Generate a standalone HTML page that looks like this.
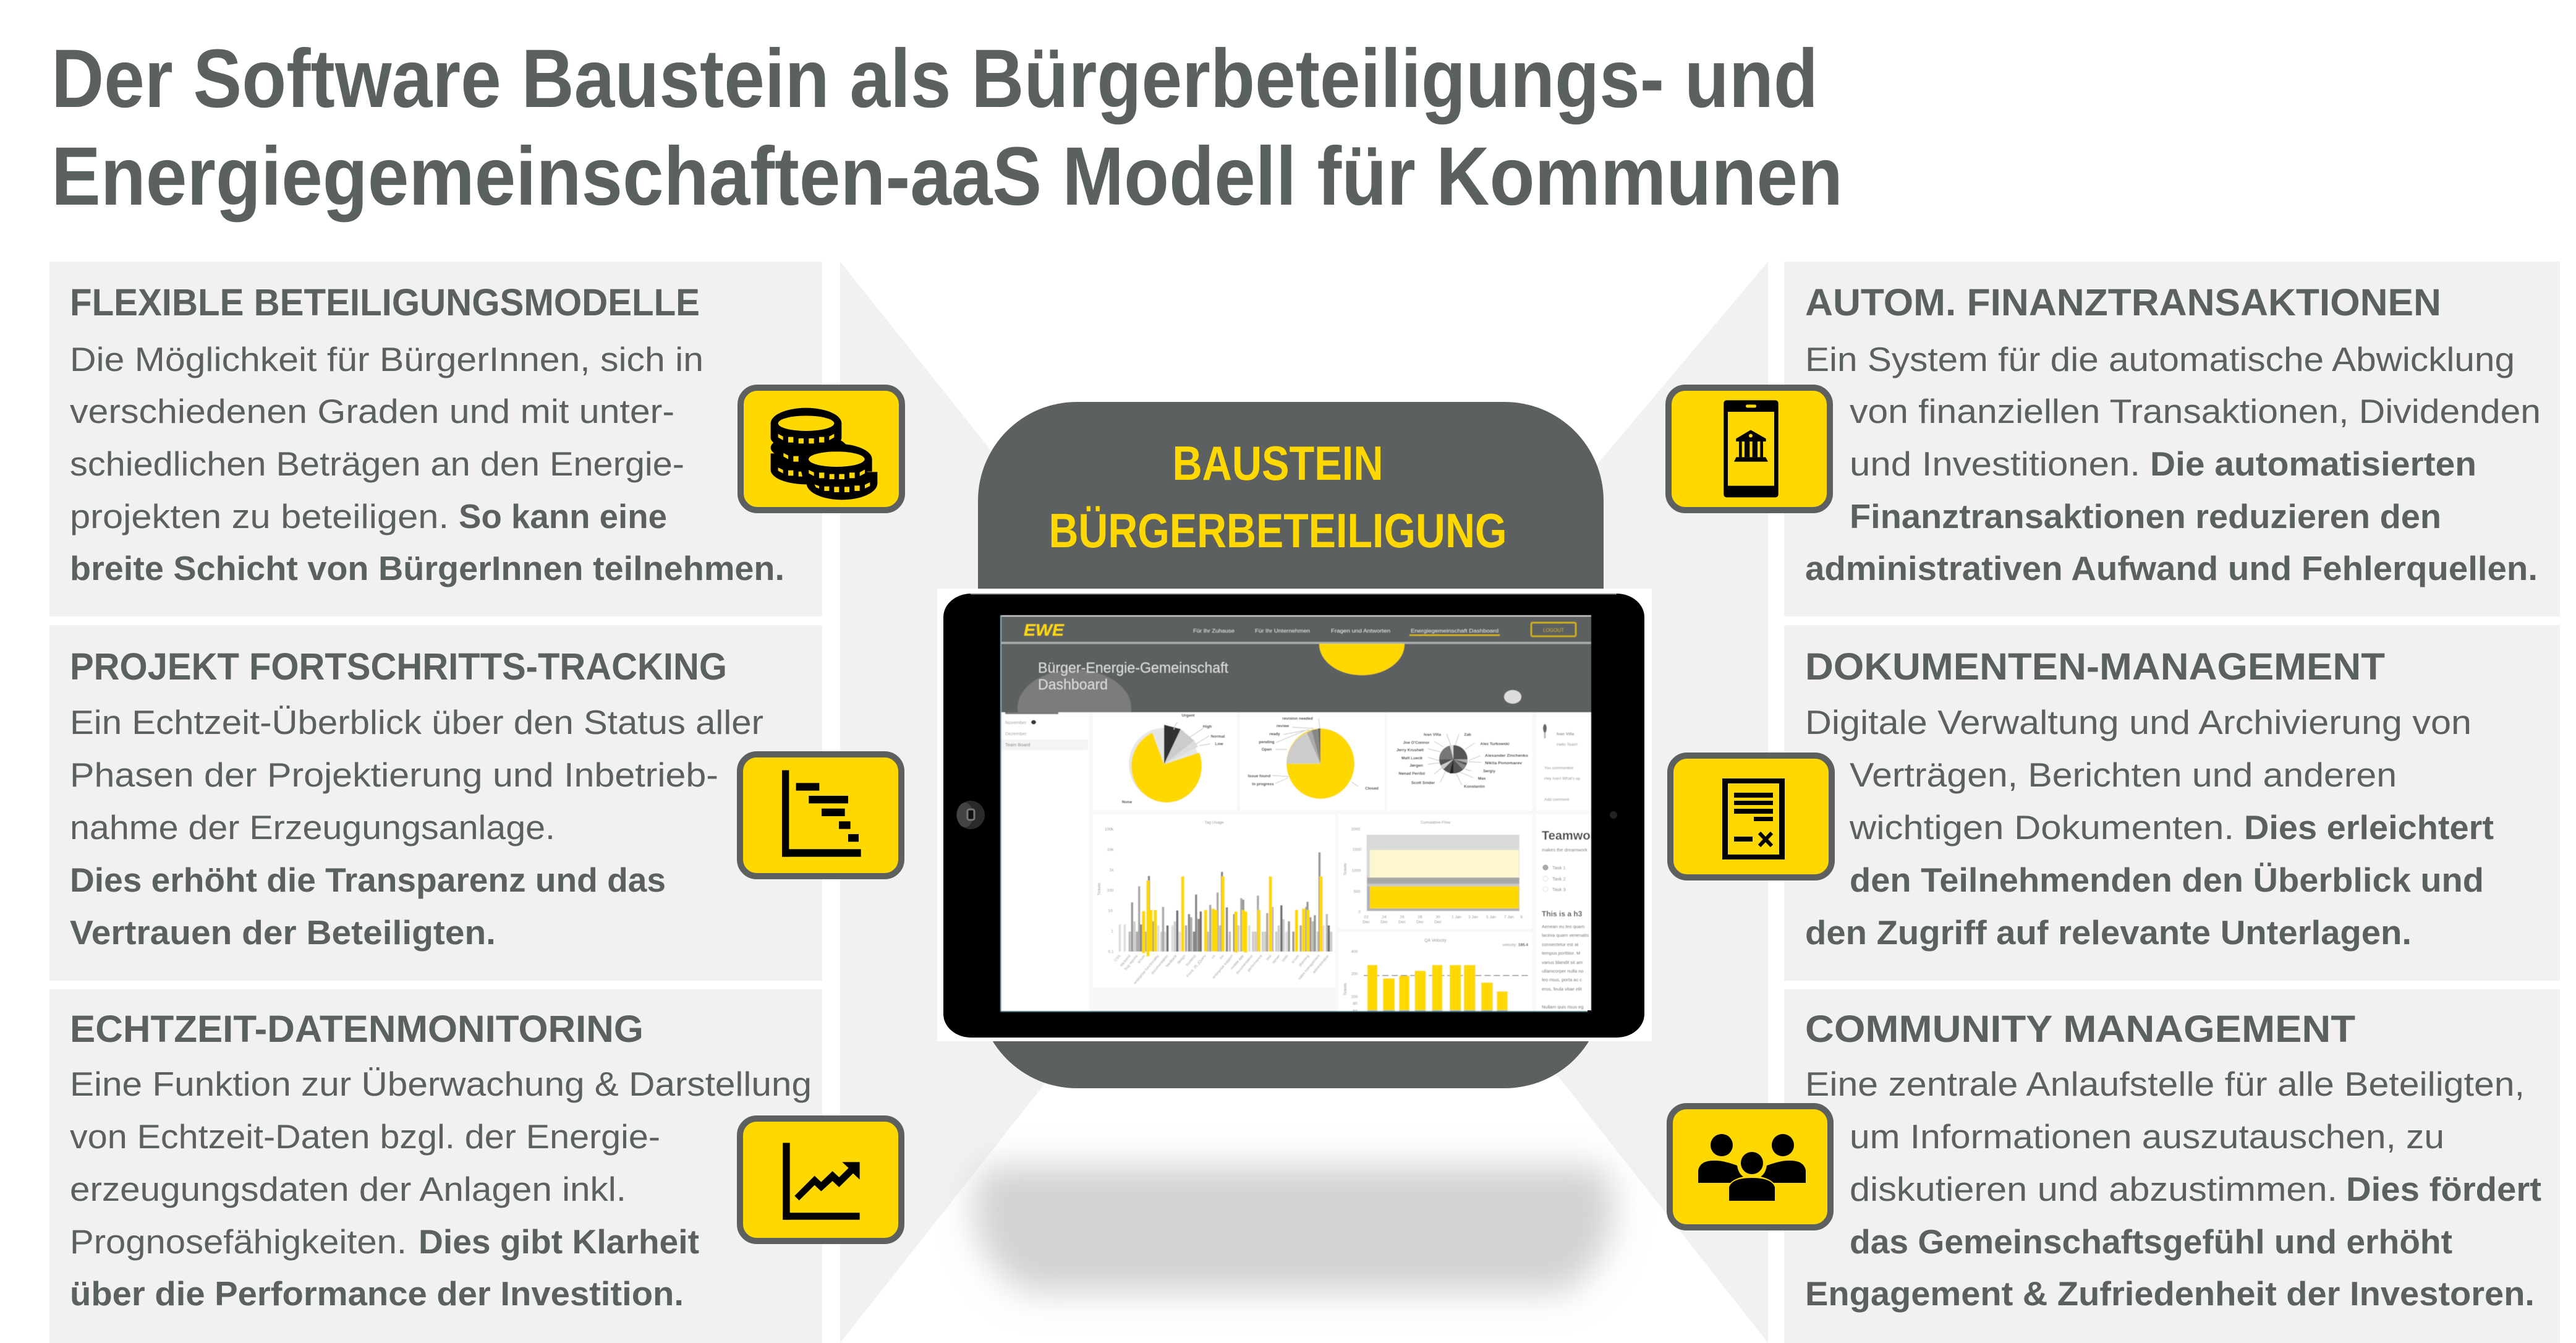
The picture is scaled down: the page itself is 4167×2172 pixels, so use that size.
<!DOCTYPE html>
<html lang="de">
<head>
<meta charset="utf-8">
<title>Der Software Baustein</title>
<style>
html,body{margin:0;padding:0;background:#fff;width:4167px;height:2172px;overflow:hidden}
svg{display:block;font-family:"Liberation Sans",sans-serif}
.h{font-size:61px;font-weight:700;fill:#5b6060}
.b{font-size:54.5px;fill:#5b6060}
.s{font-size:54.5px;font-weight:700;fill:#5b6060}
.t{font-size:134px;font-weight:700;fill:#5b6060}
.y{font-size:78px;font-weight:700;fill:#ffd800}
.i{fill:#ffd800;stroke:#5c6060;stroke-width:10}
.l{font-size:6.5px;font-weight:700;fill:#111;text-anchor:middle}
.g{font-size:6.5px;fill:#888}
.m{fill:#888;font-size:6.5px;text-anchor:middle}
</style>
</head>
<body>
<svg width="4167" height="2172" viewBox="0 0 4167 2172" xmlns="http://www.w3.org/2000/svg">
<defs>
<filter id="sh" x="-20%" y="-50%" width="140%" height="200%"><feGaussianBlur stdDeviation="28"/></filter>
<filter id="bl" x="-2%" y="-2%" width="104%" height="104%"><feGaussianBlur stdDeviation="0.65"/></filter>
<clipPath id="scr"><rect x="1620" y="995" width="954" height="641"/></clipPath>
<clipPath id="hero"><rect x="1620" y="1041" width="954" height="111"/></clipPath>
</defs>
<rect width="4167" height="2172" fill="#fff"/>

<!-- title -->
<text class="t" x="83" y="173" textLength="2858" lengthAdjust="spacingAndGlyphs">Der Software Baustein als Bürgerbeteiligungs- und</text>
<text class="t" x="83" y="331" textLength="2898" lengthAdjust="spacingAndGlyphs">Energiegemeinschaften-aaS Modell für Kommunen</text>

<!-- panels -->
<g fill="#f1f1f1">
<rect x="80" y="423" width="1250" height="574"/>
<rect x="80" y="1011" width="1250" height="575"/>
<rect x="80" y="1600" width="1250" height="572"/>
<rect x="2886" y="423" width="1255" height="574"/>
<rect x="2886" y="1011" width="1255" height="575"/>
<rect x="2886" y="1600" width="1255" height="572"/>
<polygon points="1359,423 1700,850 2500,850 2860,423 2860,2172 2520,1740 1700,1740 1359,2172"/>
</g>
<polygon points="1690,1753 2514,1735 2860,2172 1359,2172" fill="#fff"/>

<!-- shadow -->
<path d="M1610 1885H2575Q2610 1885 2610 1950Q2610 2040 2530 2090H1660Q1575 2040 1575 1950Q1575 1885 1610 1885Z" fill="#d2d2d2" filter="url(#sh)"/>

<!-- head -->
<rect x="1582" y="650" width="1012" height="1110" rx="160" ry="160" fill="#5c6060"/>
<text class="y" x="2067" y="776" text-anchor="middle" textLength="341" lengthAdjust="spacingAndGlyphs">BAUSTEIN</text>
<text class="y" x="2067" y="885" text-anchor="middle" textLength="741" lengthAdjust="spacingAndGlyphs">BÜRGERBETEILIGUNG</text>

<!-- tablet -->
<rect x="1516" y="952" width="1156" height="732" fill="#fff"/>
<rect x="1526" y="960" width="1134" height="718" rx="45" ry="38" fill="#000"/>
<rect x="1570" y="960" width="1045" height="2" fill="#666"/>
<ellipse cx="1570" cy="1318" rx="23" ry="23" fill="#2a2a2a"/>
<ellipse cx="1561" cy="1318" rx="13" ry="20" fill="#444"/>
<rect x="1565" y="1309" width="11" height="17" rx="3" fill="#111" stroke="#777" stroke-width="3"/>
<circle cx="2610" cy="1318" r="6" fill="#222"/>

<!-- screen -->
<g filter="url(#bl)">
<g clip-path="url(#scr)">
<rect x="1618" y="995" width="956" height="643" fill="#f8f8f8"/>
<rect x="1620" y="1152" width="142" height="484" fill="#fff"/>
<rect x="1620" y="1196" width="140" height="17" fill="#f4f4f4"/>
<g fill="#fff">
<rect x="1768" y="1152" width="233" height="159"/>
<rect x="2006" y="1152" width="234" height="159"/>
<rect x="2244" y="1152" width="235" height="159"/>
<rect x="2485" y="1152" width="89" height="159"/>
<rect x="1768" y="1317" width="392" height="280"/>
<rect x="2165" y="1317" width="314" height="185"/>
<rect x="2165" y="1507" width="314" height="129"/>
<rect x="2485" y="1317" width="89" height="319"/>
</g>
<!-- nav and hero -->
<rect x="1620" y="995" width="954" height="157" fill="#5c6060"/>
<rect x="1620" y="995" width="954" height="2" fill="#ddd"/>
<rect x="1620" y="1038" width="954" height="3.5" fill="#a9abab"/>
<g clip-path="url(#hero)">
<ellipse cx="2203" cy="1042" rx="69" ry="50" fill="#ffd800"/>
<ellipse cx="1738" cy="1145" rx="92" ry="62" fill="#7c7c7c"/>
</g>
<ellipse cx="2447" cy="1127" rx="14" ry="11" fill="#ddd"/>
<text x="1656" y="1028" font-size="27" font-weight="700" font-style="italic" fill="#ffd800" textLength="65" lengthAdjust="spacingAndGlyphs">EWE</text>
<g font-size="8" fill="#ddd">
<text x="1930" y="1023" textLength="67" lengthAdjust="spacingAndGlyphs">Für Ihr Zuhause</text>
<text x="2030" y="1023" textLength="89" lengthAdjust="spacingAndGlyphs">Für Ihr Unternehmen</text>
<text x="2153" y="1023" textLength="96" lengthAdjust="spacingAndGlyphs">Fragen und Antworten</text>
<text x="2282" y="1023" textLength="142" lengthAdjust="spacingAndGlyphs">Energiegemeinschaft Dashboard</text>
</g>
<rect x="2280" y="1026" width="146" height="2.5" fill="#d6b500"/>
<rect x="2477" y="1007" width="72" height="22" rx="2" fill="none" stroke="#d6b500" stroke-width="2.5"/>
<text x="2513" y="1022" font-size="8" fill="#c8ac10" text-anchor="middle">LOGOUT</text>
<text x="1679" y="1088" font-size="24" fill="#ddd" textLength="308" lengthAdjust="spacingAndGlyphs">Bürger-Energie-Gemeinschaft</text>
<text x="1679" y="1115" font-size="24" fill="#ddd" textLength="113" lengthAdjust="spacingAndGlyphs">Dashboard</text>
<!-- sidebar -->
<g font-size="7.5" fill="#999">
<text x="1626" y="1171">November</text>
<text x="1626" y="1189">Dezember</text>
<text x="1626" y="1207" fill="#777">Team Board</text>
</g>
<ellipse cx="1672" cy="1168" rx="4" ry="3.5" fill="#333"/>
<rect x="1626" y="1152" width="86" height="3" fill="#777"/>

<!-- pie 1 -->
<ellipse cx="1883" cy="1236" rx="57" ry="59" fill="#e6e6e6"/>
<path d="M1883 1236L1883 1172L1910 1179Z" fill="#333"/>
<path d="M1883 1236L1910 1179L1932 1198Z" fill="#ccc"/>
<path d="M1883 1236L1932 1198L1938 1208Z" fill="#ddd"/>
<path d="M1883 1236L1940 1217A57 59 0 1 1 1864 1185Z" fill="#ffd800"/>
<path d="M1905 1168Q1900 1172 1899 1180M1946 1178L1925 1192M1956 1190L1935 1203M1958 1203L1940 1206" stroke="#ccc" stroke-width="1.2" fill="none"/>
<g>
<text class="l" x="1922" y="1159">Urgent</text>
<text class="l" x="1953" y="1177">High</text>
<text class="l" x="1970" y="1193">Normal</text>
<text class="l" x="1972" y="1205">Low</text>
<text class="l" x="1823" y="1299">None</text>
</g>
<!-- pie 2 -->
<ellipse cx="2136" cy="1235" rx="55" ry="57" fill="#ffd800"/>
<path d="M2136 1235H2081A55 57 0 0 1 2114 1185Z" fill="#ccc"/>
<path d="M2136 1235L2114 1185L2122 1181Z" fill="#aaa"/>
<path d="M2136 1235L2122 1181L2132 1179Z" fill="#888"/>
<path d="M2136 1235L2132 1178L2136 1178Z" fill="#666"/>
<path d="M2133 1162L2135 1178M2090 1176L2125 1178M2076 1188L2118 1180M2064 1201L2110 1182M2063 1212L2082 1212M2058 1254L2084 1256M2063 1267L2084 1258M2187 1265L2197 1272" stroke="#ccc" stroke-width="1.2" fill="none"/>
<text class="l" x="2099" y="1164">revision needed</text>
<text class="l" x="2075" y="1176">review</text>
<text class="l" x="2062" y="1189">ready</text>
<text class="l" x="2049" y="1202">pending</text>
<text class="l" x="2049" y="1214">Open</text>
<text class="l" x="2037" y="1257">Issue found</text>
<text class="l" x="2043" y="1270">In progress</text>
<text class="l" x="2219" y="1277">Closed</text>
<!-- pie 3 -->
<ellipse cx="2351" cy="1228" rx="23" ry="23" fill="#555"/>
<path d="M2351 1228L2328 1228A23 23 0 0 1 2345 1206Z" fill="#777"/>
<path d="M2351 1228L2345 1205L2351 1205Z" fill="#ddd"/>
<path d="M2351 1228H2374V1234Z" fill="#aaa"/>
<path d="M2351 1228L2330 1238L2335 1244Z" fill="#ccc"/>
<path d="M2351 1228L2345 1251L2351 1251Z" fill="#222"/>
<path d="M2351 1228L2366 1244L2372 1238Z" fill="#888"/>
<path d="M2340 1187L2347 1205M2360 1187L2354 1205M2385 1202L2370 1212M2395 1222L2376 1230M2396 1233L2376 1232M2380 1247L2370 1244M2384 1258L2362 1249M2365 1270L2356 1252M2330 1265L2338 1248M2320 1252L2332 1242M2310 1236L2328 1234M2310 1225L2328 1230M2310 1211L2330 1216M2320 1199L2335 1208" stroke="#ccc" stroke-width="1.2" fill="none"/>
<text class="l" x="2317" y="1190">Ivan Villa</text>
<text class="l" x="2374" y="1190">Zab</text>
<text class="l" x="2418" y="1205">Alex Turkowski</text>
<text class="l" x="2437" y="1224" textLength="70" lengthAdjust="spacingAndGlyphs">Alexander Zinchenko</text>
<text class="l" x="2432" y="1236" textLength="60" lengthAdjust="spacingAndGlyphs">Nikita Ponomarev</text>
<text class="l" x="2409" y="1249">Sergiy</text>
<text class="l" x="2397" y="1261">Max</text>
<text class="l" x="2385" y="1274">Konstantin</text>
<text class="l" x="2302" y="1268">Scott Snider</text>
<text class="l" x="2284" y="1253">Nenad Perišić</text>
<text class="l" x="2291" y="1240">Jørgen</text>
<text class="l" x="2284" y="1228">Matt Lueck</text>
<text class="l" x="2281" y="1215">Jerry Krushelt</text>
<text class="l" x="2291" y="1203">Joe O'Connor</text>
<!-- comments -->
<ellipse cx="2499" cy="1178" rx="3" ry="7" fill="#666"/>
<path d="M2499 1185V1194" stroke="#bbb" stroke-width="3"/>
<text class="g" x="2518" y="1189" fill="#555" font-weight="700">Ivan Villa</text>
<text class="g" x="2518" y="1206" fill="#bbb">Hello Team!</text>
<text class="g" x="2498" y="1244" fill="#999">You commented</text>
<text class="g" x="2498" y="1261" fill="#bbb">Hey Ivan! What's up</text>
<text class="g" x="2498" y="1295" fill="#bbb">Add comment</text>

<!-- tag usage -->
<text class="m" x="1964" y="1332" font-size="7">Tag Usage</text>
<g class="m">
<text x="1794" y="1343">100k</text><text x="1796" y="1376">10k</text><text x="1798" y="1409">1k</text><text x="1796" y="1442">100</text><text x="1796" y="1475">10</text><text x="1799" y="1508">1</text><text x="1797" y="1541">0.1</text>
</g>
<text class="m" transform="translate(1780,1438) rotate(-90)">Tickets</text>
<g transform="translate(1600,1300) scale(.3953,.3333)" fill="none" stroke-width="9">
<path stroke="#ddd" d="M535 585V717M555 585V717M692 590V717M750 590V717M780 620V717M1065 590V717M1217 620V717M1368 590V717M720 620V717"/>
<path stroke="#ccc" d="M595 570V717M705 620V717M1080 620V717M1120 620V717M1175 620V717M1185 590V717M1205 560V717M1345 620V717M1400 620V717M760 570V717M1090 620V717M1130 620V717M1020 590V717"/>
<path stroke="#bbb" d="M575 620V717M895 620V717M945 590V717M985 620V717M1160 500V717M1325 570V717M1382 535V717"/>
<path stroke="#aaa" d="M605 620V717M614 400V717M640 620V717M712 500V717M806 590V717M827 550V717M905 490V717M935 430V717M1032 458V717M1100 445V717M1138 530V717M1275 590V717M1298 500V717"/>
<path stroke="#888" d="M622 585V717M654 350V717M818 535V717M838 620V717M847 440V717M857 558V717M973 502V717M953 330V717M1003 535V717"/>
<path stroke="#999" d="M585 478V717M670 570V717M1040 465V717M1227 570V717M1245 620V717M1303 475V717M1315 550V717M1333 540V717M1352 235V717"/>
<path stroke="#707070" d="M730 590V717M770 517V717M866 522V717M1196 492V717M1390 590V717"/>
<path stroke="#ffd800" stroke-width="13" d="M632 520V725M650 372V740M662 515V717M680 515V717M792 352V717M886 515V717M917 508V717M928 515V717M957 352V717M1010 522V722M1040 515V717M1050 522V722M1104 515V717M1151 352V717M1258 515V717M1287 508V717M1305 515V717M1358 352V717"/>
</g>
<g fill="#999" font-size="6" text-anchor="end">
<text transform="translate(1813,1546) rotate(-50)">CSS</text>
<text transform="translate(1829,1546) rotate(-50)">backend</text>
<text transform="translate(1841,1546) rotate(-50)">bug reports</text>
<text transform="translate(1853,1546) rotate(-50)">scrum</text>
<text transform="translate(1875,1546) rotate(-50)">enterprise functionality</text>
<text transform="translate(1890,1546) rotate(-50)">documentation</text>
<text transform="translate(1904,1546) rotate(-50)">feedback</text>
<text transform="translate(1918,1546) rotate(-50)">design</text>
<text transform="translate(1935,1546) rotate(-50)">frontend</text>
<text transform="translate(1951,1546) rotate(-50)">Front, JS, jQuery</text>
<text transform="translate(1966,1546) rotate(-50)">ux</text>
<text transform="translate(1980,1546) rotate(-50)">ios</text>
<text transform="translate(1995,1546) rotate(-50)">enterprise support</text>
<text transform="translate(2012,1546) rotate(-50)">mobile app</text>
<text transform="translate(2027,1546) rotate(-50)">documentation</text>
<text transform="translate(2042,1546) rotate(-50)">performance</text>
<text transform="translate(2057,1546) rotate(-50)">test</text>
<text transform="translate(2071,1546) rotate(-50)">server</text>
<text transform="translate(2084,1546) rotate(-50)">tools</text>
<text transform="translate(2102,1546) rotate(-50)">scrum</text>
<text transform="translate(2118,1546) rotate(-50)">planning</text>
<text transform="translate(2135,1546) rotate(-50)">sales management</text>
<text transform="translate(2150,1546) rotate(-50)">administration</text>
</g>

<!-- cumulative -->
<g transform="translate(2100,1300) scale(.3953,.3333)">
<rect x="280" y="150" width="625" height="370" fill="#d9d9d9"/>
<rect x="293" y="224" width="610" height="134" fill="#fdf6cf"/>
<rect x="282" y="358" width="623" height="30" fill="#a8a8a8"/>
<rect x="282" y="388" width="623" height="12" fill="#c8c8cc"/>
<rect x="282" y="400" width="623" height="120" fill="#b0b0bb"/>
<rect x="293" y="400" width="610" height="108" fill="#ffd800"/>
<!-- velocity -->
<path d="M268 833H942" stroke="#666" stroke-width="4" stroke-dasharray="26 12"/>
<g fill="#ffd800">
<rect x="283" y="782" width="41" height="220"/>
<rect x="347" y="847" width="48" height="155"/>
<rect x="413" y="835" width="42" height="167"/>
<rect x="477" y="810" width="45" height="192"/>
<rect x="548" y="782" width="42" height="220"/>
<rect x="620" y="782" width="46" height="220"/>
<rect x="678" y="782" width="47" height="220"/>
<rect x="749" y="867" width="47" height="135"/>
<rect x="813" y="910" width="44" height="92"/>
</g>
<path d="M283 1005H324M347 1005H395M413 1005H455M477 1005H522M548 1005H590M620 1005H666M678 1005H725M749 1005H796M813 1005H857" stroke="#8ab6e0" stroke-width="6"/>
</g>
<text class="m" x="2322" y="1332" font-size="7">Cumulative Flow</text>
<g class="m">
<text x="2193" y="1343">2000</text><text x="2195" y="1376">1500</text><text x="2194" y="1410">1000</text><text x="2195" y="1444">500</text><text x="2199" y="1477">0</text>
<text x="2210" y="1485">22</text><text x="2239" y="1485">24</text><text x="2268" y="1485">26</text><text x="2297" y="1485">28</text><text x="2326" y="1485">30</text>
<text x="2210" y="1493">Dec</text><text x="2239" y="1493">Dec</text><text x="2268" y="1493">Dec</text><text x="2297" y="1493">Dec</text><text x="2326" y="1493">Dec</text>
<text x="2356" y="1485">1 Jan</text><text x="2383" y="1485">3 Jan</text><text x="2412" y="1485">5 Jan</text><text x="2441" y="1485">7 Jan</text><text x="2462" y="1485">9.</text>
<text x="2322" y="1523" font-size="7">QA Velocity</text>
<text x="2191" y="1541">400</text><text x="2191" y="1577">200</text><text x="2191" y="1614">100</text><text x="2192" y="1625">80</text><text x="2192" y="1637">60</text>
</g>
<text class="m" transform="translate(2178,1406) rotate(-90)">Tickets</text>
<text class="m" transform="translate(2178,1600) rotate(-90)">Tickets</text>
<text x="2472" y="1530" font-size="6.5" fill="#888" text-anchor="end">velocity: <tspan font-weight="700" fill="#333">185.4</tspan></text>

<!-- teamwork -->
<text x="2494" y="1358" font-size="20" font-weight="700" fill="#444">Teamwork</text>
<text x="2494" y="1377" font-size="7.5" fill="#666">makes the dreamwork</text>
<circle cx="2500" cy="1403" r="4" fill="#aaa" stroke="#888"/>
<circle cx="2500" cy="1421" r="4" fill="#fff" stroke="#ddd"/>
<circle cx="2500" cy="1438" r="4" fill="#fff" stroke="#ddd"/>
<g font-size="7.5" fill="#777">
<text x="2511" y="1406">Task 1</text><text x="2511" y="1424">Task 2</text><text x="2511" y="1441">Task 3</text>
</g>
<text x="2494" y="1482" font-size="12" font-weight="700" fill="#444">This is a h3</text>
<g font-size="7.5" fill="#555">
<text x="2494" y="1501">Aenean eu leo quam</text>
<text x="2494" y="1515">lacinia quam venenatis</text>
<text x="2494" y="1530">consectetur est at</text>
<text x="2494" y="1544">tempus porttitor. M</text>
<text x="2494" y="1559">varius blandit sit am</text>
<text x="2494" y="1573">ullamcorper nulla no</text>
<text x="2494" y="1587">leo risus, porta ac c</text>
<text x="2494" y="1602">eros, feula vitae elit</text>
<text x="2494" y="1631">Nullam quis risus eg</text>
</g>
</g>
<rect x="1618" y="995" width="2" height="641" fill="#7fb3bc"/>
<rect x="1618" y="1635" width="950" height="2" fill="#3d6a72"/>
</g>
<rect x="2568" y="1634" width="6" height="4" fill="#000"/>

<!-- left text -->
<text class="h" x="113" y="510" textLength="1019" lengthAdjust="spacingAndGlyphs">FLEXIBLE BETEILIGUNGSMODELLE</text>
<text class="b" x="113" y="600" textLength="1025" lengthAdjust="spacingAndGlyphs">Die Möglichkeit für BürgerInnen, sich in</text>
<text class="b" x="113" y="684" textLength="978" lengthAdjust="spacingAndGlyphs">verschiedenen Graden und mit unter-</text>
<text class="b" x="113" y="769" textLength="994" lengthAdjust="spacingAndGlyphs">schiedlichen Beträgen an den Energie-</text>
<text class="b" x="113" y="854" textLength="613" lengthAdjust="spacingAndGlyphs">projekten zu beteiligen.</text>
<text class="s" x="742" y="854" textLength="337" lengthAdjust="spacingAndGlyphs">So kann eine</text>
<text class="s" x="113" y="938" textLength="1156" lengthAdjust="spacingAndGlyphs">breite Schicht von BürgerInnen teilnehmen.</text>

<text class="h" x="113" y="1099" textLength="1063" lengthAdjust="spacingAndGlyphs">PROJEKT FORTSCHRITTS-TRACKING</text>
<text class="b" x="113" y="1187" textLength="1122" lengthAdjust="spacingAndGlyphs">Ein Echtzeit-Überblick über den Status aller</text>
<text class="b" x="113" y="1272" textLength="1049" lengthAdjust="spacingAndGlyphs">Phasen der Projektierung und Inbetrieb-</text>
<text class="b" x="113" y="1357" textLength="785" lengthAdjust="spacingAndGlyphs">nahme der Erzeugungsanlage.</text>
<text class="s" x="113" y="1442" textLength="964" lengthAdjust="spacingAndGlyphs">Dies erhöht die Transparenz und das</text>
<text class="s" x="113" y="1527" textLength="689" lengthAdjust="spacingAndGlyphs">Vertrauen der Beteiligten.</text>

<text class="h" x="113" y="1685" textLength="928" lengthAdjust="spacingAndGlyphs">ECHTZEIT-DATENMONITORING</text>
<text class="b" x="113" y="1772" textLength="1200" lengthAdjust="spacingAndGlyphs">Eine Funktion zur Überwachung &amp; Darstellung</text>
<text class="b" x="113" y="1857" textLength="955" lengthAdjust="spacingAndGlyphs">von Echtzeit-Daten bzgl. der Energie-</text>
<text class="b" x="113" y="1942" textLength="900" lengthAdjust="spacingAndGlyphs">erzeugungsdaten der Anlagen inkl.</text>
<text class="b" x="113" y="2027" textLength="545" lengthAdjust="spacingAndGlyphs">Prognosefähigkeiten.</text>
<text class="s" x="677" y="2027" textLength="454" lengthAdjust="spacingAndGlyphs">Dies gibt Klarheit</text>
<text class="s" x="113" y="2111" textLength="993" lengthAdjust="spacingAndGlyphs">über die Performance der Investition.</text>

<!-- right text -->
<text class="h" x="2920" y="510" textLength="1029" lengthAdjust="spacingAndGlyphs">AUTOM. FINANZTRANSAKTIONEN</text>
<text class="b" x="2920" y="600" textLength="1148" lengthAdjust="spacingAndGlyphs">Ein System für die automatische Abwicklung</text>
<text class="b" x="2992" y="684" textLength="1118" lengthAdjust="spacingAndGlyphs">von finanziellen Transaktionen, Dividenden</text>
<text class="b" x="2992" y="769" textLength="470" lengthAdjust="spacingAndGlyphs">und Investitionen.</text>
<text class="s" x="3478" y="769" textLength="528" lengthAdjust="spacingAndGlyphs">Die automatisierten</text>
<text class="s" x="2992" y="854" textLength="957" lengthAdjust="spacingAndGlyphs">Finanztransaktionen reduzieren den</text>
<text class="s" x="2920" y="938" textLength="1185" lengthAdjust="spacingAndGlyphs">administrativen Aufwand und Fehlerquellen.</text>

<text class="h" x="2920" y="1099" textLength="938" lengthAdjust="spacingAndGlyphs">DOKUMENTEN-MANAGEMENT</text>
<text class="b" x="2920" y="1187" textLength="1078" lengthAdjust="spacingAndGlyphs">Digitale Verwaltung und Archivierung von</text>
<text class="b" x="2992" y="1272" textLength="885" lengthAdjust="spacingAndGlyphs">Verträgen, Berichten und anderen</text>
<text class="b" x="2992" y="1357" textLength="622" lengthAdjust="spacingAndGlyphs">wichtigen Dokumenten.</text>
<text class="s" x="3630" y="1357" textLength="404" lengthAdjust="spacingAndGlyphs">Dies erleichtert</text>
<text class="s" x="2992" y="1442" textLength="1026" lengthAdjust="spacingAndGlyphs">den Teilnehmenden den Überblick und</text>
<text class="s" x="2920" y="1527" textLength="981" lengthAdjust="spacingAndGlyphs">den Zugriff auf relevante Unterlagen.</text>

<text class="h" x="2920" y="1685" textLength="890" lengthAdjust="spacingAndGlyphs">COMMUNITY MANAGEMENT</text>
<text class="b" x="2920" y="1772" textLength="1164" lengthAdjust="spacingAndGlyphs">Eine zentrale Anlaufstelle für alle Beteiligten,</text>
<text class="b" x="2992" y="1857" textLength="962" lengthAdjust="spacingAndGlyphs">um Informationen auszutauschen, zu</text>
<text class="b" x="2992" y="1942" textLength="789" lengthAdjust="spacingAndGlyphs">diskutieren und abzustimmen.</text>
<text class="s" x="3795" y="1942" textLength="316" lengthAdjust="spacingAndGlyphs">Dies fördert</text>
<text class="s" x="2992" y="2027" textLength="975" lengthAdjust="spacingAndGlyphs">das Gemeinschaftsgefühl und erhöht</text>
<text class="s" x="2920" y="2111" textLength="1180" lengthAdjust="spacingAndGlyphs">Engagement &amp; Zufriedenheit der Investoren.</text>

<!-- icon 1 coins -->
<rect class="i" x="1198" y="627" width="261" height="198" rx="27"/>
<g transform="translate(1150,600) scale(.3333)">
<g fill="#000">
<ellipse cx="462" cy="254" rx="172" ry="75"/><rect x="290" y="254" width="344" height="70"/><ellipse cx="462" cy="324" rx="172" ry="60"/>
<ellipse cx="475" cy="372" rx="185" ry="65"/><rect x="290" y="400" width="200" height="80"/><ellipse cx="462" cy="480" rx="172" ry="70"/>
<ellipse cx="610" cy="428" rx="172" ry="75"/><rect x="438" y="428" width="344" height="60"/>
<ellipse cx="636" cy="545" rx="172" ry="80"/><rect x="465" y="490" width="343" height="55"/>
</g>
<ellipse cx="462" cy="254" rx="136" ry="37" fill="#ffd800"/>
<ellipse cx="610" cy="428" rx="136" ry="37" fill="#ffd800"/>
<g fill="#ffd800">
<path d="M326 305L350 318V336L326 322Z"/><rect x="375" y="320" width="25" height="27"/><rect x="425" y="327" width="25" height="25"/><rect x="475" y="327" width="25" height="25"/><rect x="525" y="320" width="25" height="27"/><path d="M598 305V322L574 336V318Z"/>
<path d="M352 398L375 410V428L352 415Z"/><rect x="400" y="413" width="25" height="27"/>
<path d="M326 468L350 480V497L326 484Z"/><rect x="375" y="482" width="25" height="26"/><path d="M425 488H438L444 512H425Z"/>
<path d="M475 480L500 492V510L475 497Z"/><rect x="525" y="493" width="25" height="27"/><rect x="575" y="500" width="24" height="25"/><rect x="622" y="500" width="26" height="25"/><rect x="672" y="493" width="26" height="27"/><path d="M747 478V497L722 510V492Z"/>
<path d="M502 550L525 558V570L510 565Z"/><rect x="550" y="560" width="24" height="22"/><rect x="598" y="562" width="24" height="26"/><rect x="648" y="562" width="24" height="26"/><rect x="697" y="556" width="25" height="26"/><path d="M772 540V558L747 570V552Z"/>
</g>
</g>

<!-- icon 2 gantt -->
<rect class="i" x="1197" y="1220" width="261" height="197" rx="27"/>
<g transform="translate(1180,1200) scale(.3333)" fill="#000">
<rect x="255" y="137" width="34" height="420"/><rect x="255" y="520" width="383" height="37"/>
<rect x="323" y="199" width="113" height="37"/><rect x="385" y="261" width="191" height="37"/><rect x="447" y="323" width="113" height="37"/><rect x="531" y="385" width="56" height="37"/><rect x="576" y="447" width="51" height="37"/>
</g>

<!-- icon 3 chart -->
<rect class="i" x="1197" y="1809" width="261" height="198" rx="27"/>
<g transform="translate(1180,1790) scale(.3333)" fill="#000">
<rect x="259" y="175" width="34" height="373"/><rect x="259" y="514" width="373" height="34"/>
<polygon points="316,432 413,335 445,365 500,312 532,342 578,297 547,268 632,268 632,353 600,323 532,390 500,360 445,410 413,380 338,454"/>
</g>

<!-- icon 4 phone -->
<rect class="i" x="2699" y="627" width="261" height="198" rx="27"/>
<g transform="translate(2680,600) scale(.3333)">
<rect x="325" y="142" width="265" height="471" rx="14" fill="#000"/>
<rect x="345" y="198" width="225" height="359" fill="#ffd800"/>
<rect x="432" y="163" width="51" height="15" rx="7" fill="#ffd800"/>
<g fill="#000">
<polygon points="385,328 456,286 530,328 530,342 385,342"/>
<rect x="399" y="342" width="14" height="76"/><rect x="426" y="342" width="25" height="76"/><rect x="464" y="342" width="25" height="76"/><rect x="502" y="342" width="14" height="76"/>
<polygon points="386,418 528,418 540,440 375,440"/>
</g>
<circle cx="456" cy="314" r="9" fill="#ffd800"/>
</g>

<!-- icon 5 doc -->
<rect class="i" x="2702" y="1222" width="261" height="197" rx="27"/>
<g fill="#000">
<path fill-rule="evenodd" d="M2786 1259H2887V1390H2786ZM2795 1267V1382H2878V1267Z"/>
<rect x="2805" y="1282" width="63" height="8"/><rect x="2805" y="1295" width="63" height="7"/><rect x="2805" y="1308" width="63" height="8"/><rect x="2837" y="1321" width="31" height="7"/><rect x="2805" y="1353" width="30" height="8"/>
<path d="M2846 1347L2866 1368M2866 1347L2846 1368" stroke="#000" stroke-width="6"/>
</g>

<!-- icon 6 people -->
<rect class="i" x="2701" y="1789" width="260" height="196" rx="27"/>
<g fill="#000">
<ellipse cx="2785" cy="1852" rx="18" ry="18"/><ellipse cx="2884" cy="1852" rx="18" ry="18"/>
<path d="M2747 1913V1893Q2750 1876 2775 1877Q2788 1877 2810 1885Q2812 1898 2820 1903Q2806 1906 2799 1913Z"/>
<path d="M2921 1913V1893Q2918 1876 2893 1877Q2880 1877 2858 1885Q2856 1898 2848 1903Q2862 1906 2869 1913Z"/>
<ellipse cx="2834" cy="1881" rx="18" ry="18"/>
<path d="M2797 1942V1920Q2802 1905 2834 1905Q2866 1905 2871 1920V1942Z"/>
</g>
</svg>
</body>
</html>
